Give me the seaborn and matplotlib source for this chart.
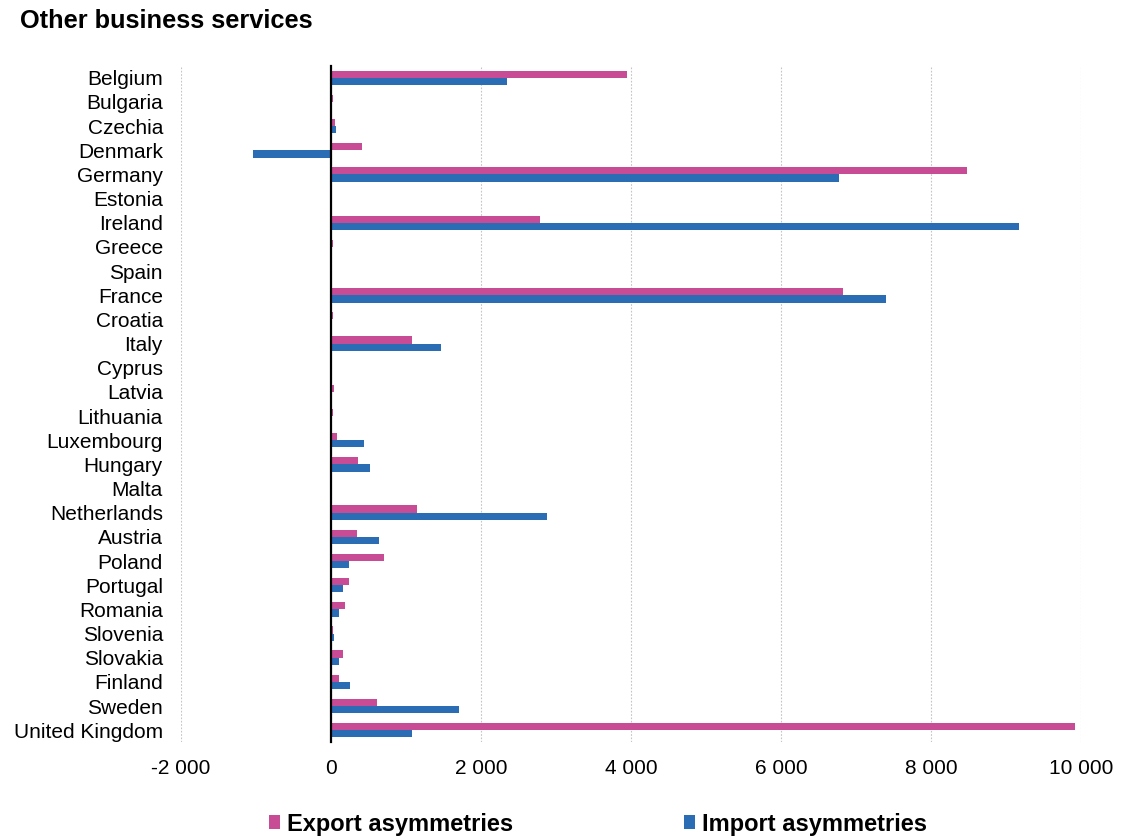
import numpy as np
import pandas as pd
import matplotlib
matplotlib.use("Agg")
import matplotlib.pyplot as plt
from matplotlib.ticker import FuncFormatter, FixedLocator
import seaborn as sns

countries = ["Belgium", "Bulgaria", "Czechia", "Denmark", "Germany", "Estonia",
             "Ireland", "Greece", "Spain", "France", "Croatia", "Italy", "Cyprus",
             "Latvia", "Lithuania", "Luxembourg", "Hungary", "Malta", "Netherlands",
             "Austria", "Poland", "Portugal", "Romania", "Slovenia", "Slovakia",
             "Finland", "Sweden", "United Kingdom"]

export_asym = [3940, 30, 50, 410, 8480, 0, 2780, 20, 0, 6830, 20, 1075, 0,
               45, 25, 80, 355, 0, 1140, 350, 710, 240, 180, 25, 165, 100, 614, 9920]
import_asym = [2350, -20, 70, -1045, 6770, 0, 9170, -10, 0, 7400, 5, 1465, 0,
               0, 0, 440, 515, 0, 2875, 640, 245, 165, 100, 40, 110, 255, 1700, 1085]

series_names = ["Export asymmetries", "Import asymmetries"]
series_colors = ["#C84B96", "#2A6DB4"]
x_ticks = [-2000, 0, 2000, 4000, 6000, 8000, 10000]

df = pd.DataFrame({
    "country": countries * 2,
    "value": export_asym + import_asym,
    "series": [series_names[0]] * len(countries) + [series_names[1]] * len(countries),
})

sns.set_style("white")
plt.rcParams["font.family"] = ["Liberation Sans", "DejaVu Sans"]
plt.rcParams["text.color"] = "black"
plt.rcParams["xtick.color"] = "black"
plt.rcParams["ytick.color"] = "black"

W, H = 1121, 836
fig = plt.figure(figsize=(W / 100, H / 100), dpi=100)
ax = fig.add_axes([181 / W, 1 - 742.3 / H, 900 / W, (742.3 - 65.7) / H])

sns.barplot(data=df, y="country", x="value", hue="series", orient="h",
            hue_order=series_names, palette=series_colors, order=countries,
            width=0.6, linewidth=0, saturation=1, ax=ax)

n = len(countries)
ax.set_xlim(x_ticks[0], x_ticks[-1])
ax.set_ylim(n - 0.5, -0.5)

# dotted vertical gridlines
ax.xaxis.set_major_locator(FixedLocator(x_ticks))
ax.xaxis.grid(True, linestyle=(0, (1.5, 1.5)), color="#C4C4C4", linewidth=0.8)
ax.set_axisbelow(True)
ax.xaxis.set_major_formatter(FuncFormatter(lambda v, p: f"{v:,.0f}".replace(",", " ")))
ax.tick_params(axis="x", length=0, pad=12, labelsize=15, labelcolor="black")
ax.set_xlabel("")
ax.set_ylabel("")

# category axis drawn at zero with boundary ticks
for s in ["top", "right", "bottom"]:
    ax.spines[s].set_visible(False)
ax.spines["left"].set_position(("data", 0))
ax.spines["left"].set_linewidth(1.6)
ax.spines["left"].set_color("black")
ax.set_yticks(np.arange(-0.5, n, 1.0))
ax.set_yticklabels([])
ax.tick_params(axis="y", length=6, width=1.6, color="black", direction="out")

# category labels at the left edge of the plot
sec = ax.secondary_yaxis("left")
sec.set_yticks(np.arange(n), labels=countries)
sec.tick_params(length=0, pad=13, labelsize=15, labelcolor="black")
sec.spines["left"].set_visible(False)

fig.text(20 / W, 1 - 21 / H, "Other business services", fontsize=18.3,
         fontweight="bold", va="center", ha="left", color="black")

handles, labels = ax.get_legend_handles_labels()
ax.get_legend().remove()
fig.legend(handles, labels, loc="center", bbox_to_anchor=(598 / W, 1 - 824 / H),
           ncol=2, frameon=False, prop={"weight": "bold", "size": 17},
           handlelength=0.5, handleheight=0.5, handletextpad=0.3,
           columnspacing=7.2, labelcolor="black")

fig.savefig("out.png", dpi=100)
